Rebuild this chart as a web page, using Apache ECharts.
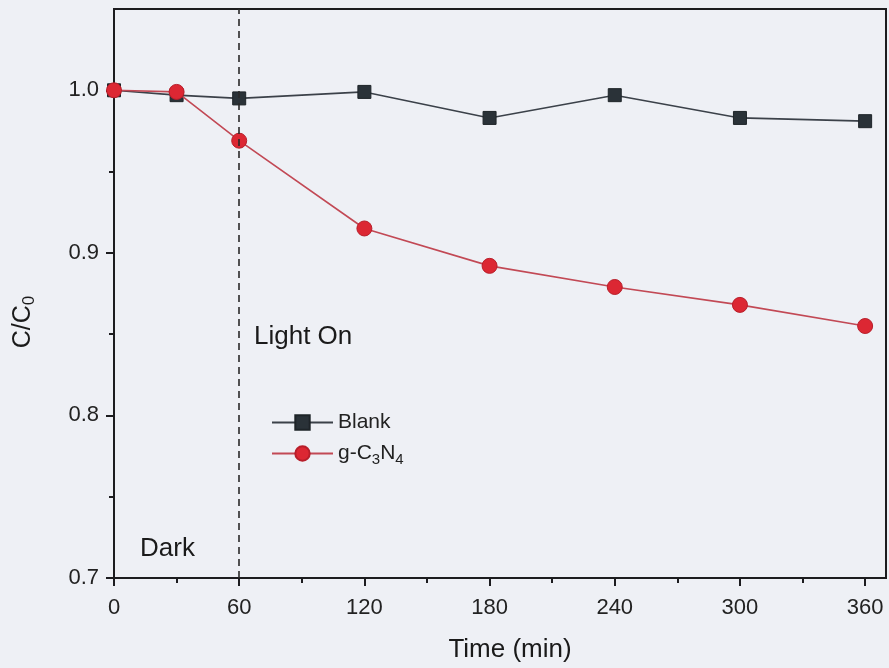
<!DOCTYPE html>
<html>
<head>
<meta charset="utf-8">
<title>C/C0 vs Time</title>
<script src="https://cdn.jsdelivr.net/npm/echarts@6/dist/echarts.min.js"></script>
<style>
  html, body { margin: 0; padding: 0; background: #eef0f5; }
  #chart { width: 889px; height: 668px; }
</style>
</head>
<body>
<div id="chart"></div>
<script>
// Sampling times (min) and normalized concentration C/C0
const times = [0, 30, 60, 120, 180, 240, 300, 360];
const blankValues = [1.000, 0.997, 0.995, 0.999, 0.983, 0.997, 0.983, 0.981];
const gcnValues = [1.000, 0.999, 0.969, 0.915, 0.892, 0.879, 0.868, 0.855];

// Axis ticks
const xMajorTicks = [0, 60, 120, 180, 240, 300, 360];
const xMinorTicks = [30, 90, 150, 210, 270, 330];
const yMajorTicks = [0.7, 0.8, 0.9, 1.0];
const yMinorTicks = [0.75, 0.85, 0.95];

// Light switched on at this time
const lightOnTime = 60;

const FONT = '"Liberation Sans", Arial, sans-serif';
const INK = '#1c1c1f';

const pairs = (xs, ys) => xs.map((x, i) => [x, ys[i]]);

const chart = echarts.init(document.getElementById('chart'), null, { renderer: 'canvas' });

const baseX = { type: 'value', min: 0, max: 370, splitLine: { show: false } };
const baseY = { type: 'value', min: 0.7, max: 1.05, splitLine: { show: false } };

chart.setOption({
  backgroundColor: '#eef0f5',
  animation: false,
  grid: {
    left: 114, right: 3, top: 9, bottom: 90,
    show: true, borderColor: INK, borderWidth: 2, backgroundColor: 'transparent'
  },
  xAxis: [
    Object.assign({}, baseX, {
      position: 'bottom',
      axisLine: { show: true, lineStyle: { color: INK, width: 2 } },
      axisTick: { show: true, inside: false, length: 8, lineStyle: { color: INK, width: 2 }, customValues: xMajorTicks },
      axisLabel: { customValues: xMajorTicks, fontSize: 22, fontFamily: FONT, color: '#222', margin: 19 }
    }),
    Object.assign({}, baseX, {
      position: 'bottom',
      axisLine: { show: false },
      axisTick: { show: true, inside: false, length: 5, lineStyle: { color: INK, width: 2 }, customValues: xMinorTicks },
      axisLabel: { show: false }
    })
  ],
  yAxis: [
    Object.assign({}, baseY, {
      position: 'left',
      axisLine: { show: true, lineStyle: { color: INK, width: 2 } },
      axisTick: { show: true, inside: false, length: 8, lineStyle: { color: INK, width: 2 }, customValues: yMajorTicks },
      axisLabel: {
        customValues: yMajorTicks, fontSize: 22, fontFamily: FONT, color: '#222', margin: 15,
        formatter: v => v.toFixed(1)
      }
    }),
    Object.assign({}, baseY, {
      position: 'left',
      axisLine: { show: false },
      axisTick: { show: true, inside: false, length: 5, lineStyle: { color: INK, width: 2 }, customValues: yMinorTicks },
      axisLabel: { show: false }
    })
  ],
  legend: {
    orient: 'vertical',
    left: 266, top: 407,
    itemWidth: 61, itemHeight: 18, itemGap: 10,
    data: ['Blank', 'g-C3N4'],
    formatter: name => name === 'g-C3N4' ? '{n|g-C}{s|3}{n|N}{s|4}' : '{n|' + name + '}',
    textStyle: {
      fontFamily: FONT, color: '#222', fontSize: 21,
      rich: {
        n: { fontSize: 21, fontFamily: FONT, color: '#222' },
        s: { fontSize: 15, fontFamily: FONT, color: '#222', padding: [12, 0, 0, 0] }
      }
    }
  },
  series: [
    {
      name: 'Blank',
      type: 'line',
      xAxisIndex: 0, yAxisIndex: 0,
      data: pairs(times, blankValues),
      symbol: 'rect', symbolSize: 13,
      lineStyle: { color: '#3b4149', width: 1.6 },
      itemStyle: { color: '#2a3238', borderColor: '#1e2428', borderWidth: 1 },
      z: 3,
      markLine: {
        silent: true,
        symbol: ['none', 'none'],
        label: { show: false },
        lineStyle: { color: '#2a2a2a', width: 1.6, type: [7, 5] },
        data: [{ xAxis: lightOnTime }]
      }
    },
    {
      name: 'g-C3N4',
      type: 'line',
      xAxisIndex: 0, yAxisIndex: 0,
      data: pairs(times, gcnValues),
      symbol: 'circle', symbolSize: 15,
      lineStyle: { color: '#c24955', width: 1.6 },
      itemStyle: { color: '#dc2733', borderColor: '#b81e2a', borderWidth: 1 },
      z: 4
    }
  ],
  graphic: [
    {
      type: 'text', x: 254, y: 337,
      style: { text: 'Light On', font: '26px ' + FONT, fill: '#1a1a1a', textAlign: 'left', textVerticalAlign: 'middle' }
    },
    {
      type: 'text', x: 140, y: 549,
      style: { text: 'Dark', font: '26px ' + FONT, fill: '#1a1a1a', textAlign: 'left', textVerticalAlign: 'middle' }
    },
    {
      type: 'text', x: 510, y: 650,
      style: { text: 'Time (min)', font: '26px ' + FONT, fill: '#1a1a1a', textAlign: 'center', textVerticalAlign: 'middle' }
    },
    {
      type: 'text', x: 23, y: 322, rotation: Math.PI / 2,
      style: {
        text: '{m|C/C}{s|0}',
        textAlign: 'center', textVerticalAlign: 'middle',
        rich: {
          m: { fontSize: 25, fontFamily: FONT, fill: '#1a1a1a', color: '#1a1a1a' },
          s: { fontSize: 17, fontFamily: FONT, fill: '#1a1a1a', color: '#1a1a1a', padding: [12, 0, 0, 0] }
        }
      }
    }
  ]
});
</script>
</body>
</html>
